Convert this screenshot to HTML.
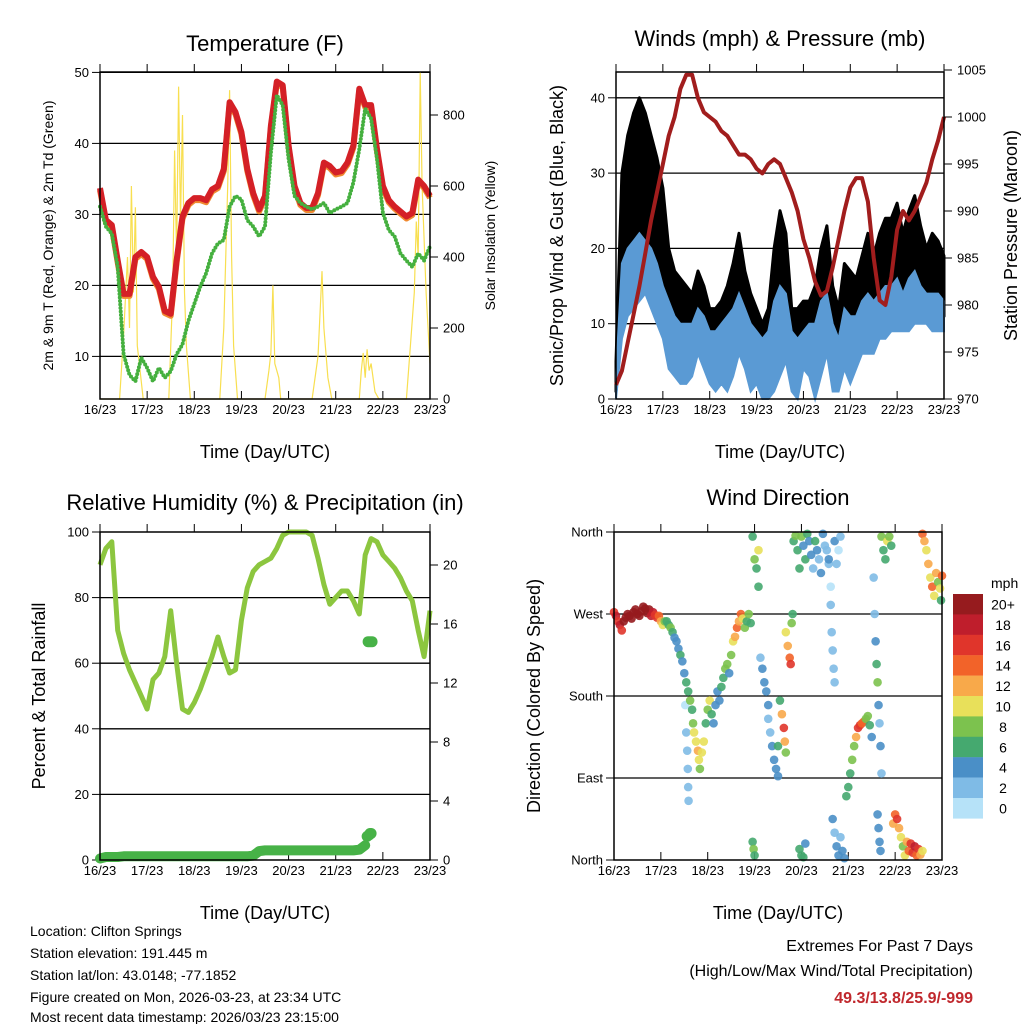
<!DOCTYPE html>
<html><head><meta charset="utf-8"><style>
html,body{margin:0;padding:0;background:#fff}
svg{display:block;font-family:"Liberation Sans",sans-serif}
</style></head><body>
<svg id="s" width="1024" height="1024" viewBox="0 0 1024 1024" xmlns="http://www.w3.org/2000/svg">
<g font-size="14" fill="#000">
<text x="30" y="936">Location: Clifton Springs</text>
<text x="30" y="958">Station elevation: 191.445 m</text>
<text x="30" y="980">Station lat/lon: 43.0148; -77.1852</text>
<text x="30" y="1002">Figure created on Mon, 2026-03-23, at 23:34 UTC</text>
<text x="30" y="1024" dy="-2">Most recent data timestamp: 2026/03/23 23:15:00</text>
</g>
<g text-anchor="end" font-size="16">
<text x="973" y="951">Extremes For Past 7 Days</text>
<text x="973" y="976">(High/Low/Max Wind/Total Precipitation)</text>
<text x="973" y="1003" fill="#c0282d" font-weight="bold">49.3/13.8/25.9/-999</text>
</g>
</svg>
<script>
const dayLabels=["16/23","17/23","18/23","19/23","20/23","21/23","22/23","23/23"];
const hours3=[0,3,6,9,12,15,18,21,24,27,30,33,36,39,42,45,48,51,54,57,60,63,66,69,72,75,78,81,84,87,90,93,96,99,102,105,108,111,114,117,120,123,126,129,132,135,138,141,144,147,150,153,156,159,162,165,168];
const temp2m=[33.7,29.2,28.5,23.5,18.8,18.8,24,24.7,24,21.2,19.8,16.4,16,23.5,29.7,31.6,32.3,32.3,32,33.5,34,36.4,45.8,44.4,41.6,36.4,33,30.7,32.6,42.5,48.7,48.2,39.7,34,31.6,30.9,30.9,33,37.3,36.8,35.9,36.1,37.3,39.7,47.7,45.4,45.4,39.2,34,32,31.1,30.4,29.7,30.2,34.9,34,32.6];
const dew2m=[31.1,28.3,27.3,22.6,10.3,7.4,6.5,9.8,8.4,6.5,8.4,7,7.9,10.3,11.7,15,17.4,19.8,21.7,24.5,25.9,26.4,31.1,32.6,32.1,29.2,28.3,26.9,28.3,38.7,46.8,45.4,37.8,32.6,31.6,31.1,30.7,31.1,31.6,30.2,30.7,31.1,31.6,34.5,39.2,44.9,43.5,37.8,30.2,27.8,26.9,24.5,23.5,22.6,24.5,23.5,25.5];
const solarHours=[0,10,12,14,15,16,17,18,19,20,22,35,37,38,39,40,41,42,43,44,46,61,63,65,66,67,68,70,84,86,87,88,89,90,91,92,108,111,113,114,116,118,132,133,134,135,136,137,138,140,142,156,158,160,161,162,163,164,166,168];
const solarVals=[0,0,180,400,200,600,300,540,150,100,0,0,300,700,400,880,500,800,300,150,0,0,200,600,870,400,150,0,0,80,130,320,100,80,60,0,0,120,360,200,60,0,0,80,130,60,140,80,100,20,0,0,150,300,500,400,920,600,300,100];
const tempTicks=[10,20,30,40,50];
const solarTicks=[0,200,400,600,800];
const gustHi=[5,30,35,38,40,38,35,32,28,20,17,16,15,14,17,15,12,12,13,15,18,22,17,14,12,10,12,20,25,22,12,12,13,13,15,20,23,15,12,18,17,16,19,22,19,22,24,24,26,22,25,27,23,20,22,21,19];
const gustLo=[1,10,14,15,16,18,15,12,10,6,5,3,3,5,8,6,4,3,4,3,5,8,6,3,4,1,2,3,5,7,3,2,6,5,2,5,8,3,3,6,4,6,8,8,8,10,10,11,11,11,11,12,12,12,11,11,11];
const windHi=[3,18,20,21,22,21,20,18,15,13,11,10,10,10,12,11,9,9,10,11,12,14,12,10,9,8,9,13,15,14,9,8,9,10,10,13,14,10,8,12,11,11,13,14,13,14,15,15,16,14,16,17,15,14,14,14,13];
const windLo=[0,8,11,12,13,14,12,10,8,4,3,2,2,3,6,4,2,1,2,1,3,6,4,1,2,0,0,1,3,5,1,0,4,3,0,3,6,1,1,4,2,4,6,6,6,8,8,9,9,9,9,10,10,10,9,9,9];
const pressure=[971.5,973,976,979,982,985.5,989,992,995,998,1000,1003,1004.5,1004.5,1002,1000.5,1000,999.5,998.5,998,997,996,996,995.5,994.5,994,995,995.5,995,993.5,992,990,987,985,982.5,981,981.5,984,987,990,992.5,993.5,993.5,991,985,980.5,980,983,988,990,989,990,991.5,993,995.5,997.5,1000];
const windTicks=[0,10,20,30,40];
const presTicks=[970,975,980,985,990,995,1000,1005];
const rh=[90,95,97,70,63,58,54,50,46,55,57,62,76,60,46,45,48,52,57,62,68,62,57,58,73,83,88,90,91,92,95,99,100,100,100,100,99,92,84,78,80,82,82,79,75,93,98,97,93,91,89,86,82,79,70,62,76];
const precip=[0.1,0.2,0.2,0.2,0.25,0.25,0.25,0.25,0.25,0.25,0.25,0.25,0.25,0.25,0.25,0.25,0.25,0.25,0.25,0.25,0.25,0.25,0.25,0.25,0.25,0.25,0.3,0.6,0.65,0.65,0.65,0.65,0.65,0.65,0.65,0.65,0.65,0.65,0.65,0.65,0.65,0.65,0.65,0.65,0.7,1.0];
const precipExtraHours=[136,137,137.5,138,136.5,137.5,138.5];
const precipExtraVals=[1.6,1.7,1.8,1.8,14.8,14.8,14.8];
const rhTicks=[0,20,40,60,80,100];
const precipTicks=[0,4,8,12,16,20];
const dirNames=["North","East","South","West","North"];
const dirTicks=[0,90,180,270,360];
const speedLabels=["20+","18","16","14","12","10","8","6","4","2","0"];
const speedColors=["#961b1e","#bf1e2c","#e0352b","#f26329","#f8a94a","#e8e05a","#7cc24e","#45a96f","#4a8fc7","#7fbbe6","#b6e2f8"];
const dirObs=[[0,272,17],[1,268,18],[2,262,16],[3,258,18],[4,252,16],[5,262,20],[6,266,22],[7,270,21],[8,268,22],[9,265,20],[10,272,22],[11,275,21],[12,270,22],[13,268,20],[14,273,22],[15,278,21],[16,276,22],[17,271,20],[18,275,20],[19,268,18],[20,272,19],[21,269,17],[22,266,16],[23,268,14],[24,262,13],[25,258,10],[26,262,8],
[27,262,7],[28,258,6],[29,255,8],[30,250,6],[31,244,5],[32,240,4],[33,232,4],[34,225,6],[35,218,4],[36,205,5],[37,195,7],[38,185,6],[36.5,170,1],[37,140,2],[37.5,120,2],[37.8,100,2],[38,80,2],[38.2,65,2],[39,175,8],[40,165,7],[40.5,150,9],[41,140,10],[42,130,11],[43,120,12],[43.5,110,10],[44,100,8],[45,118,10],[46,130,11],[47,150,7],[48,165,8],[49,175,10],[50,160,6],[51,150,4],[52,170,5],[53,185,4],[54,175,5],[55,190,7],[56,200,6],[57,210,8],[58,215,8],[59,205,4],[60,225,8],[61,240,10],[62,245,12],[63,255,14],[64,262,12],[65,270,15],[66,265,10],[67,255,8],[68,262,7],[69,270,8],[70,260,6],
[71,355,6],[72,330,8],[73,320,6],[74,300,6],[74,340,10],[71,20,6],[71.5,12,8],[72,5,6],
[75,222,2],[76,210,4],[77,195,4],[78,185,4],[79,170,4],[79,155,3],[80,140,2],[81,125,4],[82,110,4],[83,100,5],[84,92,4],[84,125,6],
[85,175,7],[86,160,12],[87,145,16],[87.5,130,12],[88,118,9],[88,250,10],[89,235,12],[90,222,15],[90.5,215,16],[91,260,8],[91.5,270,6],
[92,350,6],[93,356,8],[94,340,6],[95,320,7],[96,355,8],[97,345,4],[98,330,6],[99,358,7],[100,350,4],[101,335,4],[102,320,3],[103,350,6],[104,340,4],[105,330,2],[106,315,4],[107,358,4],[108,345,3],[109,340,2],[110,325,2],[111,300,1],[95,12,6],[96,5,7],[97,3,6],[98,18,4],[110,330,4],[111,280,2],[111.5,250,2],[112,230,2],[112.5,210,2],[113,195,2],[113,350,4],[114,325,2],[115,340,1],[116,355,2],
[112,45,4],[113,30,3],[114,15,4],[115,5,4],[116,25,3],[117,10,4],[118,2,4],
[119,70,6],[120,80,7],[121,95,6],[122,110,8],[123,125,9],[124,135,12],[125,145,16],[126,148,17],[127,150,15],[128,152,14],[129,155,9],[130,158,8],[131,148,6],[132,135,4],
[133,310,2],[133.5,270,2],[134,240,4],[134.5,215,6],[135,195,8],[135.5,170,4],[136,150,2],[136.5,125,4],[137,95,3],[135,50,4],[135.5,35,4],[136,20,4],[136.5,10,4],
[137,355,8],[138,340,6],[139,330,7],[140,350,10],[141,355,8],[142,345,6],
[143,40,12],[144,50,14],[145,45,16],[146,35,12],[147,25,10],[148,15,8],[149,5,10],[150,20,12],[151,10,14],[152,18,16],[153,8,16],[154,15,18],[155,5,14],[156,12,16],[157,6,12],[158,10,10],
[158,358,14],[159,350,12],[160,340,10],[161,325,12],[162,310,10],[163,300,14],[164,290,10],[165,315,12],[166,305,8],[167,298,10],[167.5,285,6],[168,312,14]];

const NS="http://www.w3.org/2000/svg";
const svg=document.getElementById('s');
function mk(tag,attrs,parent){const e=document.createElementNS(NS,tag);for(const k in attrs)e.setAttribute(k,attrs[k]);(parent||svg).appendChild(e);return e;}
function txt(s,attrs,parent){const e=mk('text',attrs,parent);e.textContent=s;return e;}
function linScale(d0,d1,r0,r1){return v=>r0+(v-d0)*(r1-r0)/(d1-d0);}
function pathOf(xs,ys,xf,yf){return xs.map((h,i)=>(i?'L':'M')+xf(h).toFixed(1)+' '+yf(ys[i]).toFixed(1)).join(' ');}

function panel(o){
  const g=mk('g',{});
  
  
  const x=linScale(0,168,o.x0,o.x1);
  o.grid.forEach(v=>{const ln=mk('line',{x1:o.x0,x2:o.x1,y1:o.yL(v),y2:o.yL(v),stroke:'#000','stroke-width':1.3},g);
    });
  const t=txt(o.title,{x:(o.x0+o.x1)/2,y:o.ty,'text-anchor':'middle','font-size':22},g);
  
  const xt=txt('Time (Day/UTC)',{x:(o.x0+o.x1)/2,y:o.y1+59,'text-anchor':'middle','font-size':18},g);
  
  dayLabels.forEach((d,i)=>{const xx=x(i*24);
    mk('line',{x1:xx,x2:xx,y1:o.y1,y2:o.y1-8,stroke:'#000','stroke-width':1},g);
    mk('line',{x1:xx,x2:xx,y1:o.y0,y2:o.y0-8,stroke:'#000','stroke-width':1},g);
    const l=txt(d,{x:xx,y:o.y1+15,'text-anchor':'middle','font-size':13},g);
    });
  o.lt.forEach((v,i)=>{const yy=o.yL(v);
    mk('line',{x1:o.x0-8,x2:o.x0,y1:yy,y2:yy,stroke:'#000'},g);
    const l=txt(o.ltl?o.ltl[i]:String(v),{x:o.x0-11,y:yy+4.5,'text-anchor':'end','font-size':13},g);
    });
  if(o.rt){o.rt.forEach(v=>{const yy=o.yR(v);
    mk('line',{x1:o.x1,x2:o.x1+8,y1:yy,y2:yy,stroke:'#000'},g);
    const l=txt(String(v),{x:o.x1+13,y:yy+4.5,'font-size':13},g);
    });}
  const ly=(o.y0+o.y1)/2;
  const la=txt(o.ltitle,{x:0,y:0,'text-anchor':'middle','font-size':o.lfs,transform:`translate(${o.lx},${ly}) rotate(-90)`},g);
  
  if(o.rtitle){const ra=txt(o.rtitle,{x:0,y:0,'text-anchor':'middle','font-size':o.rfs,transform:`translate(${o.rx},${ly}) rotate(-90)`},g);
    }
  const plot=mk('g',{},g);
  
  o.draw(plot,x);
  const fr=mk('rect',{x:o.x0,y:o.y0,width:o.x1-o.x0,height:o.y1-o.y0,fill:'none',stroke:'#000','stroke-width':1.5},g);
  
}

const yT=linScale(4,50,399,72.4), yS=linScale(0,200,399,328);
panel({name:'temperature-panel',title:'Temperature (F)',ty:51,x0:100,x1:430,y0:72,y1:399,yL:yT,yR:yS,grid:[10,20,30,40,50],lt:tempTicks,rt:solarTicks,
 ltitle:'2m & 9m T (Red, Orange) & 2m Td (Green)',lfs:14,lx:53,rtitle:'Solar Insolation (Yellow)',rfs:14,rx:495,
 draw:(g,x)=>{
  const s=mk('path',{d:pathOf(solarHours,solarVals,x,yS),fill:'none',stroke:'#f8df50','stroke-width':1.2},g);
  
  const o9=mk('path',{d:pathOf(hours3,temp2m,x,v=>yT(v)+2),fill:'none',stroke:'#f08a30','stroke-width':6,'stroke-linejoin':'round'},g);
  
  const r=mk('path',{d:pathOf(hours3,temp2m,x,yT),fill:'none',stroke:'#d42026','stroke-width':6,'stroke-linejoin':'round'},g);
  
  const d=mk('path',{d:pathOf(hours3,dew2m,x,yT),fill:'none',stroke:'#45b03f','stroke-width':4,'stroke-linecap':'round','stroke-dasharray':'0 3.5'},g);
  
 }});

const yW=linScale(0,10,399,323.7), yP=linScale(970,975,399,352);
panel({name:'winds-panel',title:'Winds (mph) & Pressure (mb)',ty:46,x0:616,x1:944,y0:72,y1:399,yL:yW,yR:yP,grid:[10,20,30,40],lt:windTicks,rt:presTicks,
 ltitle:'Sonic/Prop Wind & Gust (Blue, Black)',lfs:18,lx:563,rtitle:'Station Pressure (Maroon)',rfs:18,rx:1017,
 draw:(g,x)=>{
  const band=(hi,lo)=>pathOf(hours3,hi,x,yW)+' '+pathOf(hours3.slice().reverse(),lo.slice().reverse(),x,yW).replace('M','L')+' Z';
  const gb=mk('path',{d:band(gustHi,gustLo),fill:'#000',stroke:'#000','stroke-width':3,'stroke-linejoin':'round'},g);
  
  const wb=mk('path',{d:band(windHi,windLo),fill:'#5a9ad4',stroke:'#5a9ad4','stroke-width':2},g);
  
  const p=mk('path',{d:pathOf(hours3,pressure,x,yP),fill:'none',stroke:'#a11d1d','stroke-width':4,'stroke-linejoin':'round'},g);
  
 }});

const yRH=linScale(0,100,860,532), yPr=linScale(0,4,860,801);
panel({name:'humidity-panel',title:'Relative Humidity (%) & Precipitation (in)',ty:510,x0:100,x1:430,y0:532,y1:860,yL:yRH,yR:yPr,grid:[20,40,60,80],lt:rhTicks,rt:precipTicks,
 ltitle:'Percent & Total Rainfall',lfs:18,lx:45,
 draw:(g,x)=>{
  const r=mk('path',{d:pathOf(hours3,rh,x,yRH),fill:'none',stroke:'#8cc63f','stroke-width':5,'stroke-linejoin':'round'},g);
  
  const ph=hours3.slice(0,precip.length);
  const p=mk('path',{d:pathOf(ph,precip,x,yPr),fill:'none',stroke:'#47b247','stroke-width':10,'stroke-linecap':'round','stroke-linejoin':'round'},g);
  
  precipExtraHours.forEach((h,i)=>{const c=mk('circle',{cx:x(h),cy:yPr(precipExtraVals[i]),r:5.5,fill:'#47b247'},g);
    });
 }});

const yD=linScale(0,360,860,532);
panel({name:'wind-direction-panel',title:'Wind Direction',ty:505,x0:614,x1:942,y0:532,y1:860,yL:yD,grid:[90,180,270],lt:dirTicks,ltl:dirNames,
 ltitle:'Direction (Colored By Speed)',lfs:18,lx:540,
 draw:(g,x)=>{
  dirObs.forEach(p=>{const idx=Math.max(0,Math.min(10,10-Math.floor(p[2]/2)));
    const c=mk('circle',{cx:x(p[0]),cy:yD(p[1]),r:4.3,fill:speedColors[idx],'fill-opacity':0.9},g);
    });
 }});

const cb=mk('g',{});

const mt=txt('mph',{x:991,y:588,'font-size':14},cb);

speedLabels.forEach((l,i)=>{const y=594+i*20.4;
  const r=mk('rect',{x:953,y:y,width:30,height:20.6,fill:speedColors[i]},cb);
  
  const t=txt(l,{x:1003,y:y+15.5,'text-anchor':'middle','font-size':14},cb);
  });
</script>
</body></html>
